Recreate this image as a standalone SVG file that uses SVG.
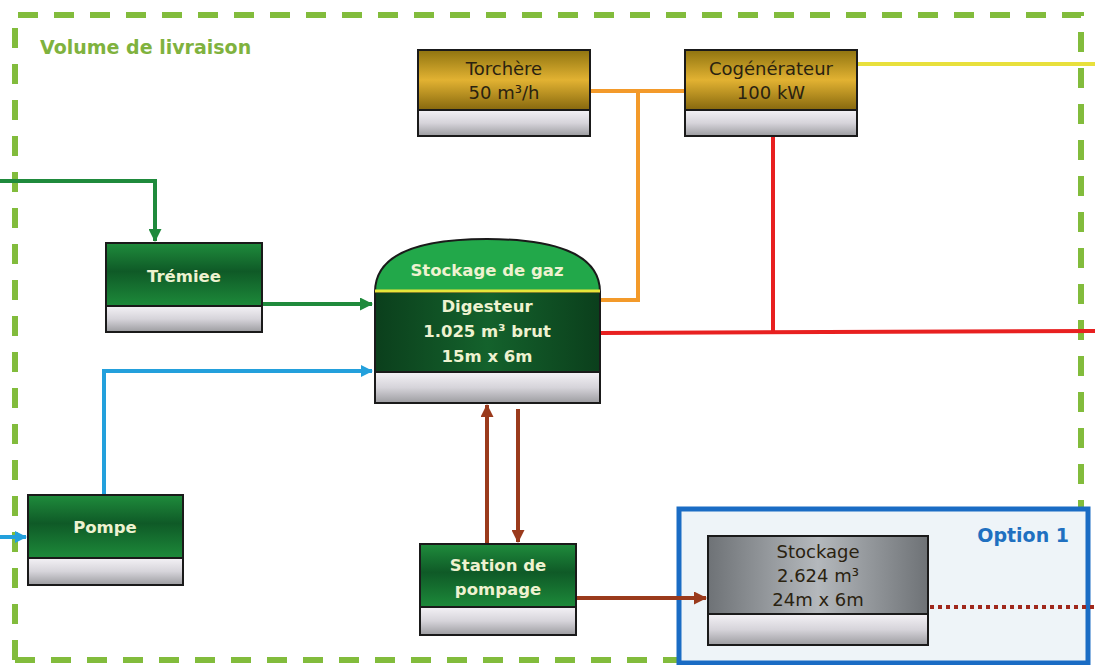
<svg xmlns="http://www.w3.org/2000/svg" width="1095" height="665" viewBox="0 0 1095 665">
  <defs>
    <linearGradient id="gold" x1="0" y1="0" x2="0" y2="1">
      <stop offset="0" stop-color="#8f7410"/>
      <stop offset="0.5" stop-color="#e2b232"/>
      <stop offset="1" stop-color="#86680e"/>
    </linearGradient>
    <linearGradient id="green" x1="0" y1="0" x2="0" y2="1">
      <stop offset="0" stop-color="#1f8c3c"/>
      <stop offset="0.45" stop-color="#0f5a27"/>
      <stop offset="1" stop-color="#1d8a3a"/>
    </linearGradient>
    <linearGradient id="tray" x1="0" y1="0" x2="0" y2="1">
      <stop offset="0" stop-color="#f4f2f6"/>
      <stop offset="0.5" stop-color="#d6d4da"/>
      <stop offset="1" stop-color="#9c9ca0"/>
    </linearGradient>
    <linearGradient id="digest" x1="0" y1="0" x2="1" y2="0">
      <stop offset="0" stop-color="#0b3f1c"/>
      <stop offset="0.5" stop-color="#14622c"/>
      <stop offset="1" stop-color="#0b3f1c"/>
    </linearGradient>
    <linearGradient id="steel" x1="0" y1="0" x2="1" y2="0">
      <stop offset="0" stop-color="#6e7276"/>
      <stop offset="0.5" stop-color="#b4b8bc"/>
      <stop offset="1" stop-color="#6e7276"/>
    </linearGradient>
    <marker id="ahGreen" markerWidth="13" markerHeight="13" refX="12" refY="6.5" orient="auto" markerUnits="userSpaceOnUse" viewBox="0 0 13 13">
      <path d="M0,0 L13,6.5 L0,13 z" fill="#1f8a3c"/>
    </marker>
    <marker id="ahBlue" markerWidth="12" markerHeight="12" refX="11" refY="6" orient="auto" markerUnits="userSpaceOnUse" viewBox="0 0 12 12">
      <path d="M0,0 L12,6 L0,12 z" fill="#23a0dc"/>
    </marker>
    <marker id="ahBrown" markerWidth="13" markerHeight="13" refX="12" refY="6.5" orient="auto" markerUnits="userSpaceOnUse" viewBox="0 0 13 13">
      <path d="M0,0 L13,6.5 L0,13 z" fill="#9a3a1c"/>
    </marker>
    <style>
      .box { stroke: #1a1a1a; stroke-width: 2; }
      .lbl { font-family: "DejaVu Sans", Verdana, sans-serif; font-size: 18px; text-anchor: middle; }
      .dark { fill: #2a2210; }
      .light { fill: #eef2d0; font-weight: bold; font-size: 16.5px; }
      .flow { fill: none; stroke-width: 4; }
    </style>
  </defs>

  <rect width="1095" height="665" fill="#ffffff"/>

  <!-- delivery volume boundary -->
  <g id="volume-livraison">
    <path d="M15,660 L15,15 L1081,15 L1081,507" fill="none" stroke="#82bc3c" stroke-width="6" stroke-dasharray="20 16"/>
    <path d="M15,660 L677,660" fill="none" stroke="#82bc3c" stroke-width="6" stroke-dasharray="20 16"/>
    <text x="40" y="54" font-family="DejaVu Sans, Verdana, sans-serif" font-size="19" font-weight="bold" fill="#7fb23e">Volume de livraison</text>
  </g>

  <!-- option 1 area -->
  <g id="option-1">
    <rect x="679" y="509" width="409" height="154" fill="#eef4f8" stroke="#1a6cc4" stroke-width="5"/>
    <text x="1069" y="542" font-family="DejaVu Sans, Verdana, sans-serif" font-size="19" font-weight="bold" fill="#2070c0" text-anchor="end">Option 1</text>
  </g>

  <!-- connectors -->
  <g id="connectors">
    <path class="flow" d="M857,64 L1095,64" stroke="#e8e03c"/>
    <path class="flow" d="M590,91 L685,91 M638,91 L638,300 L600,300" stroke="#f39a2a"/>
    <path class="flow" d="M773,136 L773,332 M600,333 L1095,331" stroke="#e82020"/>
    <path class="flow" d="M0,181 L155,181 L155,241" stroke="#1f8a3c" marker-end="url(#ahGreen)"/>
    <path class="flow" d="M262,304 L372,304" stroke="#1f8a3c" marker-end="url(#ahGreen)"/>
    <path class="flow" d="M104,495 L104,371 L372,371" stroke="#23a0dc" marker-end="url(#ahBlue)"/>
    <path class="flow" d="M0,537 L26,537" stroke="#23a0dc" marker-end="url(#ahBlue)"/>
    <path class="flow" d="M487,544 L487,405" stroke="#9a3a1c" marker-end="url(#ahBrown)"/>
    <path class="flow" d="M518,409 L518,542" stroke="#9a3a1c" marker-end="url(#ahBrown)"/>
    <path class="flow" d="M576,598 L706,598" stroke="#9a3a1c" marker-end="url(#ahBrown)"/>
    <path d="M930,607 L1095,607" fill="none" stroke="#a0281c" stroke-width="4" stroke-dasharray="4 4"/>
  </g>

  <!-- flare -->
  <g id="torchere">
    <rect class="box" x="418" y="50" width="172" height="60" fill="url(#gold)"/>
    <rect class="box" x="418" y="110" width="172" height="26" fill="url(#tray)"/>
    <text class="lbl dark" x="504" y="75">Torchère</text>
    <text class="lbl dark" x="504" y="99">50 m³/h</text>
  </g>

  <!-- CHP unit -->
  <g id="cogenerateur">
    <rect class="box" x="685" y="50" width="172" height="60" fill="url(#gold)"/>
    <rect class="box" x="685" y="110" width="172" height="26" fill="url(#tray)"/>
    <text class="lbl dark" x="771" y="75">Cogénérateur</text>
    <text class="lbl dark" x="771" y="99">100 kW</text>
  </g>

  <!-- hopper -->
  <g id="tremiee">
    <rect class="box" x="106" y="243" width="156" height="63" fill="url(#green)"/>
    <rect class="box" x="106" y="306" width="156" height="26" fill="url(#tray)"/>
    <text class="lbl light" x="184" y="282" font-size="17.5">Trémiee</text>
  </g>

  <!-- digester with gas storage dome -->
  <g id="digesteur">
    <path d="M375,292 C375,252 424,239 487,239 C550,239 600,252 600,292 Z" fill="#22a84a" stroke="#1a1a1a" stroke-width="2"/>
    <rect class="box" x="375" y="292" width="225" height="80" fill="url(#digest)"/>
    <line x1="375" y1="291" x2="600" y2="291" stroke="#e6e63a" stroke-width="3"/>
    <rect class="box" x="375" y="372" width="225" height="31" fill="url(#tray)"/>
    <text class="lbl light" x="487" y="276" font-size="14">Stockage de gaz</text>
    <text class="lbl light" x="487" y="312">Digesteur</text>
    <text class="lbl light" x="487" y="337">1.025 m³ brut</text>
    <text class="lbl light" x="487" y="362">15m x 6m</text>
  </g>

  <!-- pump -->
  <g id="pompe">
    <rect class="box" x="28" y="495" width="155" height="63" fill="url(#green)"/>
    <rect class="box" x="28" y="558" width="155" height="27" fill="url(#tray)"/>
    <text class="lbl light" x="105" y="533" font-size="17">Pompe</text>
  </g>

  <!-- pumping station -->
  <g id="station-pompage">
    <rect class="box" x="420" y="544" width="156" height="63" fill="url(#green)"/>
    <rect class="box" x="420" y="607" width="156" height="28" fill="url(#tray)"/>
    <text class="lbl light" x="498" y="571">Station de</text>
    <text class="lbl light" x="498" y="595">pompage</text>
  </g>

  <!-- storage tank -->
  <g id="stockage">
    <rect class="box" x="708" y="536" width="220" height="78" fill="url(#steel)"/>
    <rect class="box" x="708" y="614" width="220" height="31" fill="url(#tray)"/>
    <text class="lbl dark" x="818" y="558">Stockage</text>
    <text class="lbl dark" x="818" y="582">2.624 m³</text>
    <text class="lbl dark" x="818" y="606">24m x 6m</text>
  </g>
</svg>
